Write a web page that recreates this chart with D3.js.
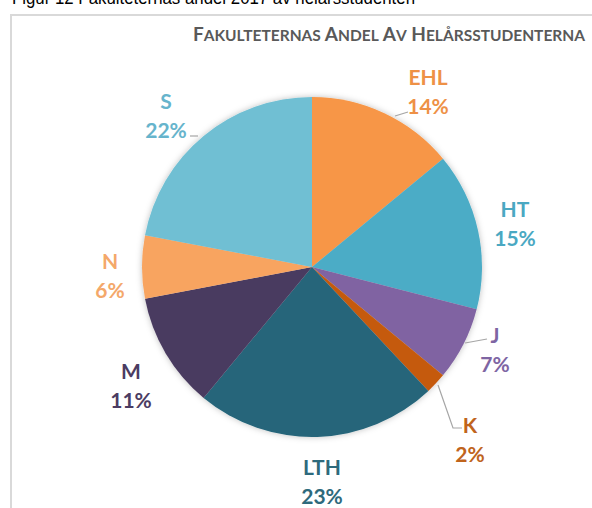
<!DOCTYPE html>
<html>
<head>
<meta charset="utf-8">
<script src="https://cdn.jsdelivr.net/npm/d3@7"></script>
<style>
  body { margin: 0; background: #fff; }
  svg { display: block; }
</style>
</head>
<body>
<div id="chart"></div>
<script>
const faculties = ["EHL", "HT", "J", "K", "LTH", "M", "N", "S"];
const shares = [14, 15, 7, 2, 23, 11, 6, 22];
const sliceColors = ["#f79646", "#4bacc6", "#8064a2", "#c55a11", "#25657a", "#4a3a60", "#f8a460", "#6fbfd3"];
const labelColors = ["#ee9146", "#4aa8c2", "#7e65a3", "#c0641c", "#2e6a7c", "#4b3c62", "#f4a86a", "#66b4cc"];
// label anchor positions (center of the two-line label)
const labelPos = [[428, 92], [515, 224], [495, 350], [470, 440], [322, 482], [131, 386], [110, 276], [166, 116]];

const width = 592, height = 508;
const cx = 312, cy = 267, r = 170;

const svg = d3.select("#chart").append("svg")
  .attr("width", width)
  .attr("height", height);

const defs = svg.append("defs");
defs.append("filter").attr("id", "shadow")
  .attr("x", "-20%").attr("y", "-20%").attr("width", "140%").attr("height", "140%")
  .append("feDropShadow")
  .attr("dx", 0).attr("dy", 0).attr("stdDeviation", 3)
  .attr("flood-color", "#000").attr("flood-opacity", 0.25);

// caption of the document, cut at the top
svg.append("text")
  .attr("x", 12).attr("y", 4)
  .attr("font-family", "Liberation Sans, Arial, sans-serif")
  .attr("font-size", 19)
  .attr("fill", "#000")
  .attr("textLength", 403)
  .attr("lengthAdjust", "spacingAndGlyphs")
  .text("Figur 12 Fakulteternas andel 2017 av helårsstudenten");

// frame
svg.append("path")
  .attr("d", `M11,${height} V15 H${width}`)
  .attr("fill", "none")
  .attr("stroke", "#d9d9d9")
  .attr("stroke-width", 2);

// title with small caps
const title = svg.append("text")
  .attr("x", 585).attr("y", 41)
  .attr("text-anchor", "end")
  .attr("font-family", "Lato, Open Sans, sans-serif")
  .attr("font-weight", "bold")
  .attr("fill", "#595959");
["FAKULTETERNAS", "ANDEL", "AV", "HELÅRSSTUDENTERNA"].forEach((w, i) => {
  title.append("tspan").attr("font-size", 19).text((i ? " " : "") + w[0]);
  title.append("tspan").attr("font-size", 15.5).text(w.slice(1));
});

const pie = d3.pie().sort(null).value(d => d);
const arc = d3.arc().innerRadius(0).outerRadius(r);
const arcs = pie(shares);

const g = svg.append("g").attr("transform", `translate(${cx},${cy})`);
g.append("g")
  .attr("filter", "url(#shadow)")
  .selectAll("path")
  .data(arcs)
  .join("path")
  .attr("fill", (d, i) => sliceColors[i])
  .attr("d", arc);

// leader lines
const leaders = [
  [[395, 116], [408, 112]],
  [[465, 343], [487, 339]],
  [[438, 385], [453, 428], [462, 428]],
  [[190, 136], [198, 136]]
];
svg.append("g").selectAll("path")
  .data(leaders)
  .join("path")
  .attr("d", d => d3.line()(d))
  .attr("fill", "none")
  .attr("stroke", "#a6a6a6")
  .attr("stroke-width", 1.2);

// labels
const labels = svg.append("g")
  .attr("font-family", "Lato, Open Sans, sans-serif")
  .attr("font-weight", "bold")
  .attr("font-size", 21)
  .attr("text-anchor", "middle");
faculties.forEach((f, i) => {
  const [x, y] = labelPos[i];
  const t = labels.append("text").attr("fill", labelColors[i]);
  t.append("tspan").attr("x", x).attr("y", y - 7).text(f);
  t.append("tspan").attr("x", x).attr("y", y + 22).text(shares[i] + "%");
});
</script>
</body>
</html>
